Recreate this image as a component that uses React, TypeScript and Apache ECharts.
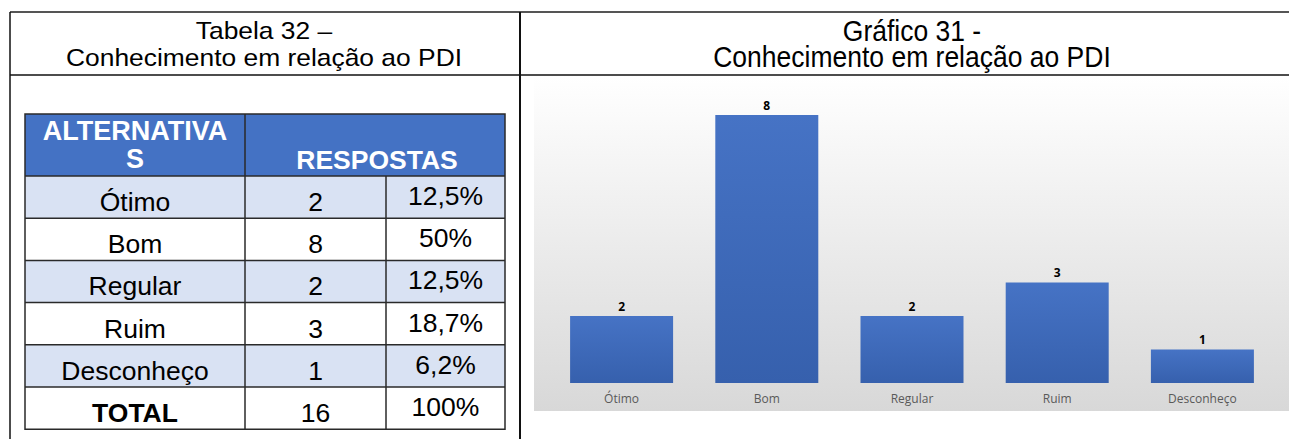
import React, { useEffect, useRef } from "react";
import * as echarts from "echarts";

const categories = ["Ótimo", "Bom", "Regular", "Ruim", "Desconheço"];
const responses = [2, 8, 2, 3, 1];
const percents = ["12,5%", "50%", "12,5%", "18,7%", "6,2%"];
const totalLabel = "TOTAL";
const totalResponses = "16";
const totalPercent = "100%";
const tableTitle = ["Tabela 32 –", "Conhecimento em relação ao PDI"];
const chartTitle = ["Gráfico 31 -", "Conhecimento em relação ao PDI"];
const headerLabels = ["ALTERNATIVA", "S", "RESPOSTAS"];

const W = 1289;
const H = 439;
const SANS = "'Liberation Sans', Arial, sans-serif";
const FS = 26.5;

function buildGraphic() {
  const els: any[] = [];
  // chart area background
  els.push({
    type: "rect",
    z: -100,
    shape: { x: 534, y: 76, width: 755, height: 335 },
    style: {
      fill: new echarts.graphic.LinearGradient(0, 0, 0, 1, [
        { offset: 0, color: "#ffffff" },
        { offset: 1, color: "#d8d8d8" },
      ]),
    },
  });
  // outer frame lines
  els.push({ type: "line", shape: { x1: 10, y1: 12, x2: W, y2: 12 }, style: { stroke: "#555", lineWidth: 2 } });
  els.push({ type: "line", shape: { x1: 10, y1: 75, x2: W, y2: 75 }, style: { stroke: "#111", lineWidth: 1.5 } });
  els.push({ type: "line", shape: { x1: 10, y1: 12, x2: 10, y2: H }, style: { stroke: "#111", lineWidth: 1.5 } });
  els.push({ type: "line", shape: { x1: 520, y1: 12, x2: 520, y2: H }, style: { stroke: "#111", lineWidth: 2 } });

  // titles (two lines each, tight line spacing)
  els.push({
    type: "text",
    x: 264,
    y: 44,
    scaleX: 1.1,
    style: {
      text: tableTitle.join("\n"),
      font: `24px ${SANS}`,
      lineHeight: 27,
      fill: "#000",
      textAlign: "center",
      textVerticalAlign: "middle",
    },
  });
  els.push({
    type: "text",
    x: 912,
    y: 44,
    scaleX: 1,
    scaleY: 1.12,
    style: {
      text: chartTitle.join("\n"),
      font: `${FS}px ${SANS}`,
      lineHeight: 23.2,
      fill: "#000",
      textAlign: "center",
      textVerticalAlign: "middle",
    },
  });

  // inner table
  const tx = 25, tr = 505, c1 = 245, c2 = 386;
  const top = 114, headBottom = 176, rowH = 42.2;
  const nRows = categories.length + 1;
  const bottom = headBottom + nRows * rowH;
  els.push({ type: "rect", shape: { x: tx, y: top, width: tr - tx, height: headBottom - top }, style: { fill: "#4472c4" } });
  for (let i = 0; i < nRows; i++) {
    const y = headBottom + i * rowH;
    els.push({
      type: "rect",
      shape: { x: tx, y, width: tr - tx, height: rowH },
      style: { fill: i % 2 === 0 && i < categories.length ? "#d9e2f3" : "#ffffff" },
    });
  }
  const border = { stroke: "#2a2a2a", lineWidth: 1.5 };
  els.push({ type: "rect", shape: { x: tx, y: top, width: tr - tx, height: bottom - top }, style: { ...border, fill: "none" } });
  els.push({ type: "line", shape: { x1: c1, y1: top, x2: c1, y2: bottom }, style: border });
  els.push({ type: "line", shape: { x1: c2, y1: headBottom, x2: c2, y2: bottom }, style: border });
  for (let i = 0; i < nRows; i++) {
    const y = headBottom + i * rowH;
    els.push({ type: "line", shape: { x1: tx, y1: y, x2: tr, y2: y }, style: border });
  }
  // header text
  const bold = `bold ${FS}px ${SANS}`;
  els.push({
    type: "text",
    x: (tx + c1) / 2,
    y: 145,
    style: {
      text: headerLabels[0] + "\n" + headerLabels[1],
      font: `bold 27px ${SANS}`,
      lineHeight: 28,
      fill: "#fff",
      textAlign: "center",
      textVerticalAlign: "middle",
    },
  });
  els.push({ type: "text", x: (c1 + tr) / 2 + 2, y: 160, style: { text: headerLabels[2], font: bold, fill: "#fff", textAlign: "center", textVerticalAlign: "middle" } });

  const rows: [string, string, string][] = categories.map((c, i) => [c, String(responses[i]), percents[i]]);
  rows.push([totalLabel, totalResponses, totalPercent]);
  rows.forEach((r, i) => {
    const y = headBottom + i * rowH;
    const isTotal = i === rows.length - 1;
    els.push({ type: "text", x: (tx + c1) / 2, y: y + 26, style: { text: r[0], font: isTotal ? bold : `${FS}px ${SANS}`, fill: "#000", textAlign: "center", textVerticalAlign: "middle" } });
    els.push({ type: "text", x: (c1 + c2) / 2, y: y + 26, style: { text: r[1], font: `${FS}px ${SANS}`, fill: "#000", textAlign: "center", textVerticalAlign: "middle" } });
    els.push({ type: "text", x: (c2 + tr) / 2, y: y + 20, style: { text: r[2], font: `${FS}px ${SANS}`, fill: "#000", textAlign: "center", textVerticalAlign: "middle" } });
  });
  return els;
}

export default function App() {
  const ref = useRef<HTMLDivElement>(null);
  useEffect(() => {
    if (!ref.current) return;
    const chart = echarts.init(ref.current, undefined, { renderer: "svg" });
    chart.setOption({
      animation: false,
      backgroundColor: "#ffffff",
      grid: { left: 549, right: 14, top: 115, bottom: 56, containLabel: false, outerBoundsMode: "none" },
      xAxis: {
        type: "category",
        data: categories,
        axisLine: { show: false },
        axisTick: { show: false },
        axisLabel: { color: "#595959", fontSize: 12, fontFamily: "'Open Sans', sans-serif", margin: 9 },
      },
      yAxis: { type: "value", min: 0, max: 8, show: false, splitLine: { show: false } },
      series: [
        {
          type: "bar",
          data: responses,
          barWidth: 103,
          itemStyle: {
            color: new echarts.graphic.LinearGradient(0, 0, 0, 1, [
              { offset: 0, color: "#4673c5" },
              { offset: 1, color: "#3660ad" },
            ]),
          },
          label: {
            show: true,
            position: "top",
            distance: 4,
            color: "#000",
            fontSize: 12,
            fontWeight: "bold",
            fontFamily: "'Open Sans', sans-serif",
          },
        },
      ],
      graphic: { elements: buildGraphic() },
    });
    return () => chart.dispose();
  }, []);
  return (
    <div
      ref={ref}
      style={{ position: "absolute", left: 0, top: 0, width: W, height: H }}
    />
  );
}
